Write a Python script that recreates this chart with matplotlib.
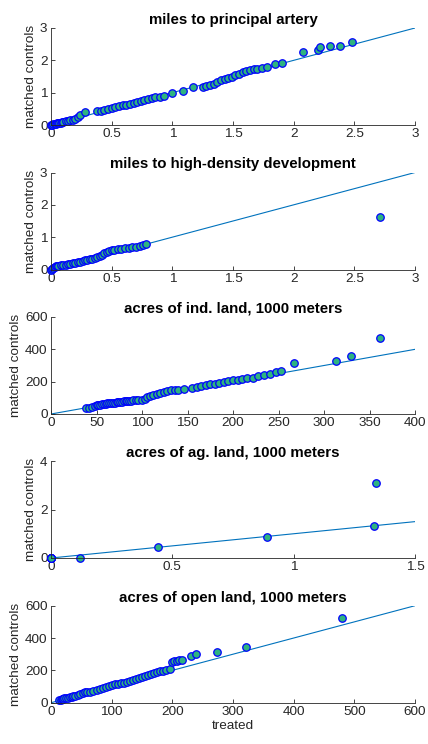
import matplotlib
matplotlib.use("Agg")
import matplotlib.pyplot as plt

plt.rcParams['font.family'] = ['Liberation Sans', 'DejaVu Sans']

# panel titles and axis limits
titles = ["miles to principal artery",
          "miles to high-density development",
          "acres of ind. land, 1000 meters",
          "acres of ag. land, 1000 meters",
          "acres of open land, 1000 meters"]
x_limits = [3, 3, 400, 1.5, 600]
y_limits = [3, 3, 600, 4, 600]
x_ticks = [[0, 0.5, 1, 1.5, 2, 2.5, 3],
           [0, 0.5, 1, 1.5, 2, 2.5, 3],
           [0, 50, 100, 150, 200, 250, 300, 350, 400],
           [0, 0.5, 1, 1.5],
           [0, 100, 200, 300, 400, 500, 600]]
y_ticks = [[0, 1, 2, 3],
           [0, 1, 2, 3],
           [0, 200, 400, 600],
           [0, 2, 4],
           [0, 200, 400, 600]]

# quantiles: treated (x) vs matched controls (y)
artery_treated = [0.00, 0.01, 0.02, 0.03, 0.04, 0.05, 0.06, 0.07, 0.08, 0.09, 0.10, 0.12, 0.14, 0.16, 0.18, 0.20, 0.22, 0.24, 0.28,
                  0.38, 0.41, 0.44, 0.47, 0.50, 0.53, 0.56, 0.59, 0.62, 0.65, 0.68, 0.71, 0.74, 0.77, 0.80, 0.83, 0.86, 0.90, 0.93,
                  1.00, 1.09, 1.17, 1.25, 1.28, 1.31, 1.34, 1.37, 1.40, 1.43, 1.46, 1.49, 1.52, 1.55, 1.58, 1.61, 1.64, 1.67, 1.70, 1.74, 1.78, 1.85, 1.90,
                  2.08, 2.20, 2.22, 2.30, 2.38, 2.48]
artery_controls = [0.00, 0.01, 0.02, 0.03, 0.04, 0.05, 0.06, 0.06, 0.07, 0.08, 0.09, 0.11, 0.13, 0.15, 0.17, 0.20, 0.24, 0.31, 0.40,
                   0.42, 0.44, 0.46, 0.49, 0.52, 0.55, 0.58, 0.61, 0.63, 0.66, 0.68, 0.71, 0.74, 0.77, 0.81, 0.84, 0.86, 0.88, 0.90,
                   0.98, 1.05, 1.17, 1.19, 1.21, 1.24, 1.28, 1.33, 1.38, 1.42, 1.46, 1.50, 1.54, 1.58, 1.63, 1.66, 1.69, 1.72, 1.73, 1.77, 1.80, 1.88, 1.93,
                   2.25, 2.32, 2.42, 2.43, 2.45, 2.56]

density_treated = [0.00, 0.01, 0.02, 0.03, 0.04, 0.05, 0.06,
                   0.08, 0.10, 0.12, 0.14, 0.16, 0.18, 0.20, 0.22, 0.24, 0.26, 0.28, 0.30, 0.32, 0.34, 0.36, 0.38,
                   0.40, 0.42, 0.44, 0.46, 0.48, 0.50, 0.52,
                   0.55, 0.58, 0.61, 0.64, 0.67, 0.70, 0.73, 0.76, 0.78, 2.71]
density_controls = [0.00, 0.03, 0.06, 0.08, 0.10, 0.11, 0.12,
                    0.13, 0.14, 0.15, 0.16, 0.18, 0.19, 0.21, 0.23, 0.24, 0.26, 0.28, 0.30, 0.32, 0.34, 0.36, 0.38,
                    0.41, 0.45, 0.50, 0.54, 0.56, 0.59, 0.61,
                    0.62, 0.63, 0.65, 0.67, 0.69, 0.71, 0.73, 0.76, 0.78, 1.63]

ind_treated = [38, 42, 45, 48, 50, 52, 54, 56, 58, 60, 62, 64, 66, 68, 70, 72, 74, 76, 78, 80,
               82, 84, 86, 88, 90, 93, 96, 100, 103, 106, 109, 112, 116, 120, 124, 128, 132, 136, 140, 146,
               155, 160, 165, 170, 175, 180, 185, 190, 195, 200, 205, 210, 215, 222, 228, 234, 241, 247, 253, 267,
               313, 330, 362]
ind_controls = [35, 38, 45, 50, 53, 55, 57, 59, 61, 63, 65, 66, 68, 70, 71, 72, 74, 75, 77, 78,
                80, 81, 82, 83, 84, 85, 86, 88, 95, 105, 112, 118, 124, 130, 137, 143, 146, 148, 151, 155,
                160, 167, 173, 178, 183, 188, 193, 198, 203, 208, 212, 216, 220, 225, 232, 240, 248, 258, 265, 318,
                330, 356, 470]

ag_treated = [0, 0, 0, 0, 0, 0.12, 0.44, 0.89, 1.33, 1.34]
ag_controls = [0, 0, 0, 0, 0, 0.02, 0.45, 0.88, 1.34, 3.10]

open_treated = [14, 16, 18, 20, 22, 25, 28, 31, 34, 37, 40, 44, 48, 52, 56, 60, 65, 70, 75, 80,
                85, 90, 95, 100, 105, 110, 115, 120, 125, 130, 135, 140, 145, 150, 155, 160, 165, 170, 175, 180,
                185, 190, 196, 200, 203, 207, 211, 216, 230, 239, 273, 322, 479]
open_controls = [15, 18, 21, 24, 26, 28, 31, 34, 37, 40, 44, 50, 56, 62, 64, 66, 68, 72, 77, 84,
                 92, 99, 105, 109, 113, 117, 119, 122, 127, 133, 139, 146, 152, 158, 163, 169, 176, 182, 188, 194,
                 198, 202, 209, 250, 256, 260, 263, 265, 290, 300, 311, 342, 524]

treated = [artery_treated, density_treated, ind_treated, ag_treated, open_treated]
controls = [artery_controls, density_controls, ind_controls, ag_controls, open_controls]

fig = plt.figure(figsize=(4.28, 7.44), dpi=100)

left = 51 / 428
width = 364 / 428
height = 97 / 744
bottoms_px = [125, 269.5, 414, 558, 702.7]

axis_color = (0.15, 0.15, 0.15)

for i in range(5):
    ax = fig.add_axes([left, 1 - bottoms_px[i] / 744, width, height])
    # reference line y = x
    ax.plot([0, x_limits[i]], [0, x_limits[i]], color="#0072BD", linewidth=0.8, zorder=1)
    ax.plot(treated[i], controls[i], linestyle="none", marker="o", markersize=5.4,
            markerfacecolor=(0.18, 0.7, 0.5), markeredgecolor=(0, 0, 1),
            markeredgewidth=0.9, zorder=2, clip_on=False)
    ax.set_xlim(0, x_limits[i])
    ax.set_ylim(0, y_limits[i])
    ax.set_xticks(x_ticks[i])
    ax.set_yticks(y_ticks[i])
    ax.set_xticklabels([f"{t:g}" for t in x_ticks[i]])
    ax.set_yticklabels([f"{t:g}" for t in y_ticks[i]])
    ax.spines["top"].set_visible(False)
    ax.spines["right"].set_visible(False)
    for s in ["left", "bottom"]:
        ax.spines[s].set_color(axis_color)
        ax.spines[s].set_linewidth(0.6)
    ax.tick_params(direction="in", length=2.6, width=0.6, colors=axis_color,
                   labelsize=9.7, pad=2.5)
    ax.set_title(titles[i], fontsize=10.8, fontweight="bold", pad=3)
    ax.set_ylabel("matched controls", fontsize=9.7, color=axis_color, labelpad=2)
    if i == 4:
        ax.set_xlabel("treated", fontsize=9.7, color=axis_color, labelpad=1)

fig.savefig("out.png", dpi=100)
